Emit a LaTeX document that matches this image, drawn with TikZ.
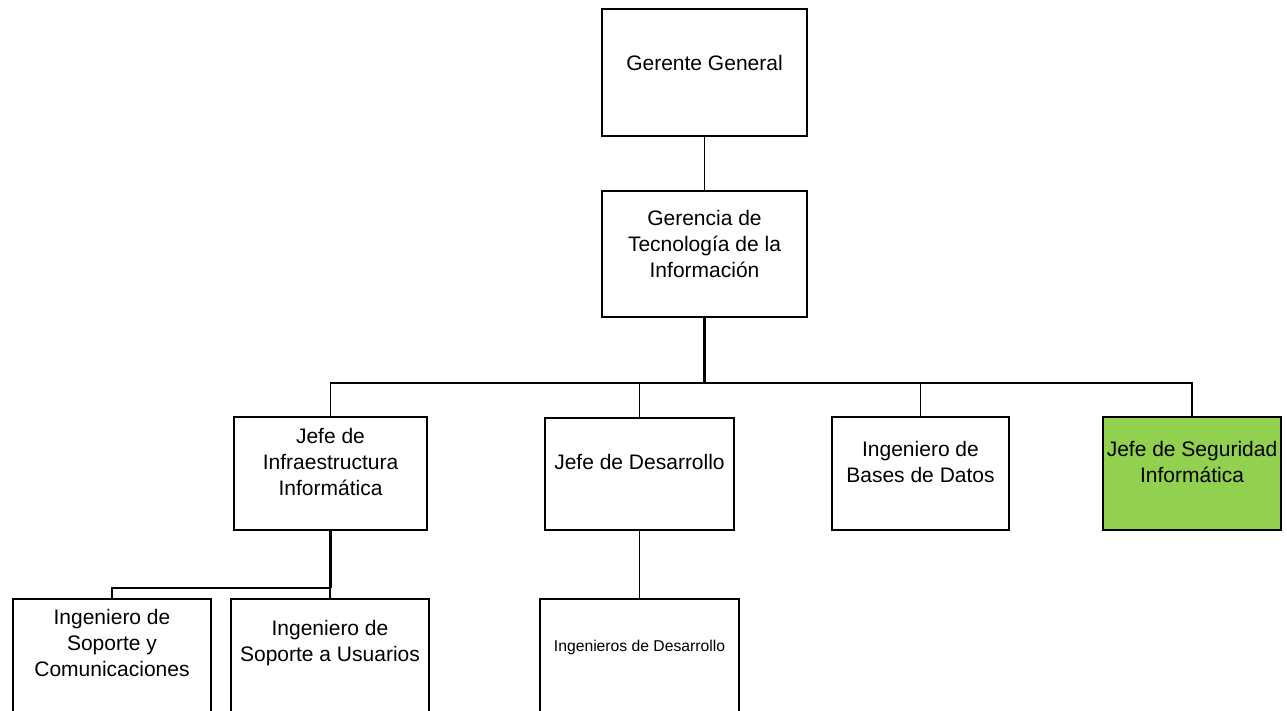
\documentclass[tikz,border=0pt]{standalone}
\usepackage{fontspec}
\setmainfont{Liberation Sans}
\definecolor{boxgreen}{HTML}{92D050}
\begin{document}
\begin{tikzpicture}[x=1pt,y=-1pt,
  orgbox/.style={draw=black, line width=1.5pt, fill=white, inner sep=0pt, rectangle},
  orgtxt/.style={align=center, inner sep=0pt, font=\fontsize{21}{26}\selectfont},
  smalltxt/.style={align=center, inner sep=0pt, font=\fontsize{15.7}{19}\selectfont},
  link/.style={draw=black, line width=1.5pt},
  trunk/.style={draw=black, line width=2.2pt}]
\useasboundingbox (0,0) rectangle (1287,711);
% boxes
\node[orgbox, minimum width=205pt, minimum height=127pt] (gg) at (704.5,72.5) {};
\node[orgbox, minimum width=205pt, minimum height=126pt] (gti) at (704.5,254) {};
\node[orgbox, minimum width=193pt, minimum height=113pt] (ji) at (330.5,473.5) {};
\node[orgbox, minimum width=189pt, minimum height=112pt] (jd) at (639.5,474) {};
\node[orgbox, minimum width=177pt, minimum height=113pt] (ibd) at (920.5,473.5) {};
\node[orgbox, fill=boxgreen, minimum width=178pt, minimum height=113pt] (js) at (1192,473.5) {};
\node[orgbox, minimum width=198pt, minimum height=116pt] (isc) at (112,657) {};
\node[orgbox, minimum width=198pt, minimum height=116pt] (isu) at (330,657) {};
\node[orgbox, minimum width=199pt, minimum height=116pt] (idv) at (639.5,657) {};
% texts
\node[orgtxt] (ggt) at ([yshift=10pt]gg.center) {Gerente General};
\node[orgtxt] (gtit) at ([yshift=10pt]gti.center) {Gerencia de\\Tecnología de la\\Información};
\node[orgtxt] (jit) at ([yshift=12pt]ji.center) {Jefe de\\Infraestructura\\Informática};
\node[orgtxt] (jdt) at ([yshift=12pt]jd.center) {Jefe de Desarrollo};
\node[orgtxt] (ibdt) at ([yshift=12pt]ibd.center) {Ingeniero de\\Bases de Datos};
\node[orgtxt] (jst) at ([yshift=12pt]js.center) {Jefe de Seguridad\\Informática};
\node[orgtxt] (isct) at ([yshift=14pt]isc.center) {Ingeniero de\\Soporte y\\Comunicaciones};
\node[orgtxt] (isut) at ([yshift=14pt]isu.center) {Ingeniero de\\Soporte a Usuarios};
\node[smalltxt] (idvt) at ([yshift=10pt]idv.center) {Ingenieros de Desarrollo};
% connectors
\coordinate (bar) at (704.5,383);
\coordinate (sub) at (330.5,588);
\draw[link] (gg.south) -- (gti.north);
\draw[trunk] (gti.south) -- (bar);
\draw[link] (ji.north) |- (bar);
\draw[link] (js.north) |- (bar);
\draw[link] (jd.north) -- (jd.north |- bar);
\draw[link] (ibd.north) -- (ibd.north |- bar);
\draw[trunk] (ji.south) -- (sub);
\draw[link] (isc.north) |- (sub);
\draw[link] (isu.north) -- (isu.north |- sub);
\draw[link] (jd.south) -- (idv.north);
\end{tikzpicture}
\end{document}
